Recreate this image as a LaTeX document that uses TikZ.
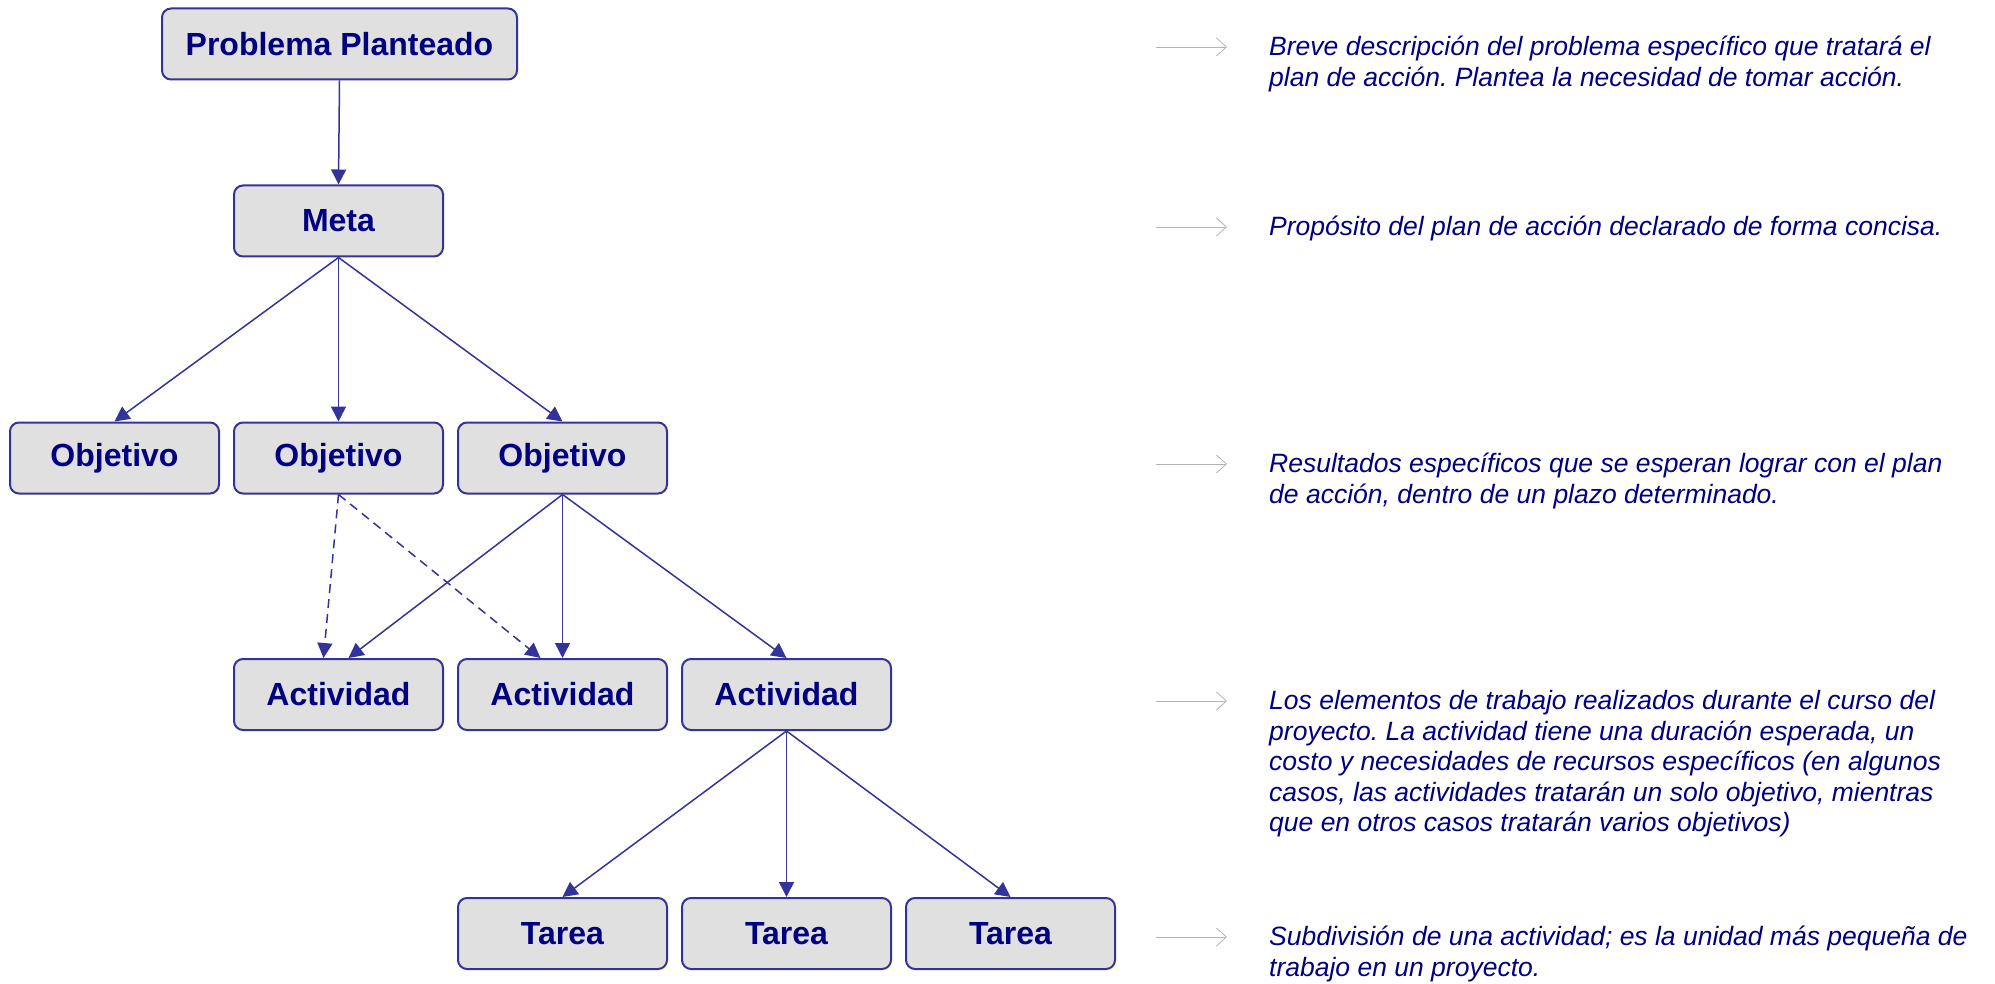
\documentclass[tikz,border=0pt]{standalone}
\usepackage{fontspec}
\setmainfont{Liberation Sans}
\usepackage{tikz}
\usetikzlibrary{arrows.meta}
\usetikzlibrary{positioning}
\frenchspacing

\definecolor{navytext}{HTML}{000080}
\definecolor{boxline}{HTML}{333399}
\definecolor{boxfill}{HTML}{E0E0E0}
\definecolor{guide}{HTML}{B4B4B4}

\begin{document}
\begin{tikzpicture}[x=1pt,y=-1pt]
				\useasboundingbox (0,0) rectangle (1995,984);
				\begin{scope}[every node/.style = {rectangle, rounded corners=9pt, draw=boxline,
						line width=2pt, fill=boxfill, text=navytext,
						font = \fontsize{32}{36}\selectfont\bfseries,
						minimum width=209pt, minimum height=71pt, inner sep=0pt}]
					\node (P) at (339.5,44) [minimum width=355pt] {Problema Planteado};
					\node (M) at (338.5,221) {Meta};
					\node (O1) at (114.5,458) {Objetivo};
					\node (O2) at (338.5,458) {Objetivo};
					\node (O3) at (562.5,458) {Objetivo};
					\node (A1) at (338.5,694.5) {Actividad};
					\node (A2) at (562.5,694.5) {Actividad};
					\node (A3) at (786.5,694.5) {Actividad};
					\node (T1) at (562.5,933.5) {Tarea};
					\node (T2) at (786.5,933.5) {Tarea};
					\node (T3) at (1010.5,933.5) {Tarea};
				\end{scope}
				\begin{scope}[every node/.style = {anchor=north west, align=left, inner sep=0pt,
						text=navytext, font = \fontsize{26.5}{30.5}\selectfont\itshape}]
					\node (D1) at (1269,34) {\strut Breve descripción del problema específico que tratará el\\
						plan de acción. Plantea la necesidad de tomar acción.};
					\node (D2) at (1269,214) {\strut Propósito del plan de acción declarado de forma concisa.};
					\node (D3) at (1269,451) {\strut Resultados específicos que se esperan lograr con el plan\\
						de acción, dentro de un plazo determinado.};
					\node (D4) at (1269,688) {\strut Los elementos de trabajo realizados durante el curso del\\
						proyecto. La actividad tiene una duración esperada, un\\
						costo y necesidades de recursos específicos (en algunos\\
						casos, las actividades tratarán un solo objetivo, mientras\\
						que en otros casos tratarán varios objetivos)};
					\node (D5) at (1269,924) {\strut Subdivisión de una actividad; es la unidad más pequeña de\\
						trabajo en un proyecto.};
				\end{scope}
					\coordinate (G1) at (1156,47);
					\coordinate (G2) at (1156,227);
					\coordinate (G3) at (1156,464);
					\coordinate (G4) at (1156,701);
					\coordinate (G5) at (1156,937);
				\begin{scope}[>={Triangle[length=15pt,width=15pt]},
						every edge/.style={draw=boxline, line width=1.5pt}]
					\path [->] (P.south) edge (M.north);
					\path [->] (M.south) edge (O1.north);
					\path [->] (M.south) edge (O2.north);
					\path [->] (M.south) edge (O3.north);
					\path [->, dashed, dash pattern=on 9pt off 6pt] (O2.south) edge ([xshift=-15pt]A1.north);
					\path [->, dashed, dash pattern=on 9pt off 6pt] (O2.south) edge ([xshift=-22pt]A2.north);
					\path [->] (O3.south) edge ([xshift=10pt]A1.north);
					\path [->] (O3.south) edge (A2.north);
					\path [->] (O3.south) edge (A3.north);
					\path [->] (A3.south) edge (T1.north);
					\path [->] (A3.south) edge (T2.north);
					\path [->] (A3.south) edge (T3.north);
				\end{scope}
				\begin{scope}[>={Straight Barb[length=10pt,width=18pt]},
						every edge/.style={draw=guide, line width=0.8pt, shorten >=42pt}]
					\path [->] (G1) edge (D1.north west |- G1);
					\path [->] (G2) edge (D2.north west |- G2);
					\path [->] (G3) edge (D3.north west |- G3);
					\path [->] (G4) edge (D4.north west |- G4);
					\path [->] (G5) edge (D5.north west |- G5);
				\end{scope}
			\end{tikzpicture}
\end{document}
